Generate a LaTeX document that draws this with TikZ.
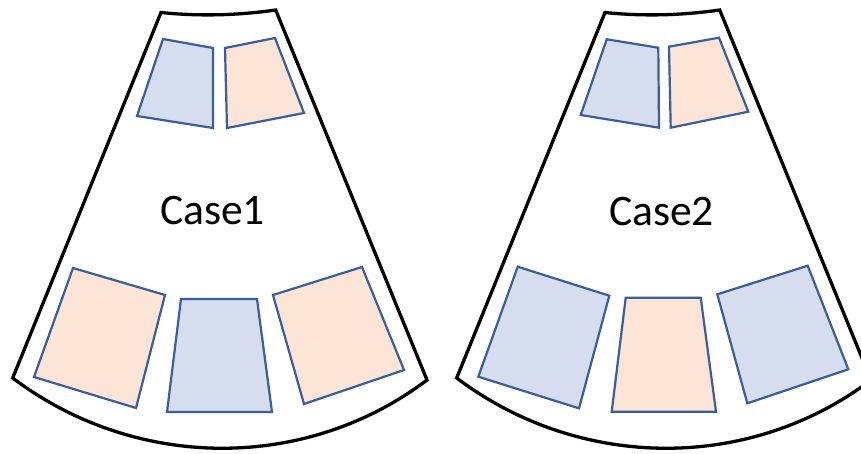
\documentclass[tikz,border=0pt]{standalone}
\usepackage{fontspec}
\setmainfont{Carlito}
\definecolor{edgeblue}{HTML}{3A5D9C}
\definecolor{fillblue}{HTML}{D6DDEF}
\definecolor{fillpeach}{HTML}{FCE4D6}
\begin{document}
\begin{tikzpicture}[x=1pt,y=-1pt,
  fan/.style={draw=black,line width=3.3pt,fill=white},
  cell/.style={draw=edgeblue,line width=2.2pt,line join=miter},
  bluecell/.style={cell,fill=fillblue},
  peachcell/.style={cell,fill=fillpeach},
  caselabel/.style={anchor=base,inner sep=0pt,font=\fontsize{43.6}{50}\selectfont}]
\useasboundingbox (0,0) rectangle (861,453);
\clip (0,0) rectangle (861,453);

% left sector
\draw[fan] (161,12.5) .. controls (199,16.4) and (237,15.5) .. (275.7,10)
  -- (427,380) .. controls (304.7,472.3) and (135,470.3) .. (12.7,378) -- cycle;
\draw[bluecell]  (163,39) -- (213,48) -- (213,128) -- (137,116) -- cycle;
\draw[peachcell] (225,48) -- (275,38) -- (304,113) -- (227,128) -- cycle;
\draw[peachcell] (73,268) -- (165,295) -- (136,408) -- (34,377) -- cycle;
\draw[bluecell]  (181,299) -- (257,299) -- (272,412) -- (167,412) -- cycle;
\draw[peachcell] (273,295) -- (362,267) -- (404,370) -- (304,404) -- cycle;
\node[caselabel] (case1) at (212.5,224) {Case1};

% right sector
\begin{scope}[xshift=444pt]
\draw[fan] (161,12.5) .. controls (199,16.4) and (237,15.5) .. (275.7,10)
  -- (427,380) .. controls (304.7,472.3) and (135,470.3) .. (12.7,378) -- cycle;
\end{scope}
\draw[bluecell]  (606.7,39.3) -- (658.3,47.7) -- (659,127.7) -- (580.7,115) -- cycle;
\draw[peachcell] (669,46.7) -- (719,37.7) -- (748.3,111.7) -- (670.7,127.7) -- cycle;
\draw[bluecell]  (517.7,266.7) -- (609.3,295.7) -- (579,408.3) -- (478.3,376.7) -- cycle;
\draw[peachcell] (625.7,297.7) -- (700.7,297.7) -- (716,411.7) -- (611.7,411.7) -- cycle;
\draw[bluecell]  (717.3,294.3) -- (807.7,265.7) -- (848.3,369.3) -- (747.3,403.3) -- cycle;
\node[caselabel] (case2) at (661.5,225) {Case2};
\end{tikzpicture}
\end{document}
